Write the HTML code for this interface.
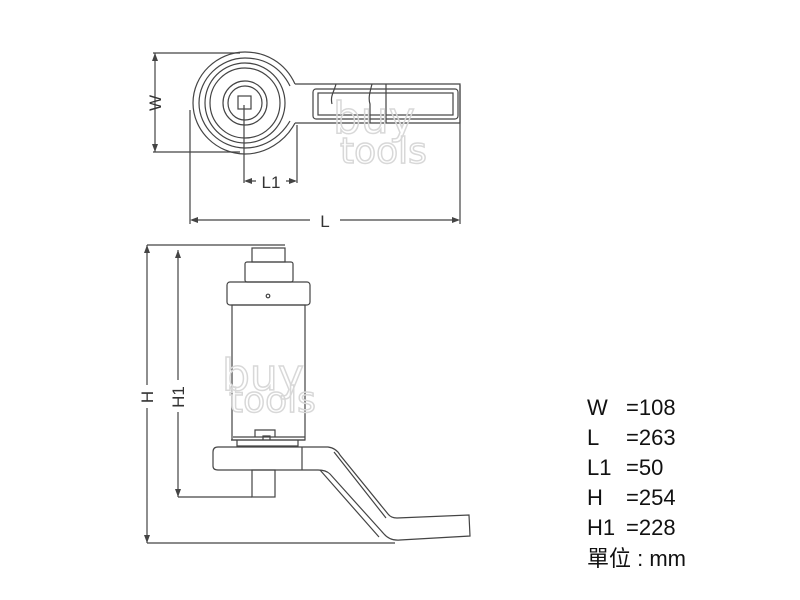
<!DOCTYPE html>
<html><head><meta charset="utf-8"><style>
html,body{margin:0;padding:0;background:#fff;}
svg{display:block}
</style></head><body>
<svg width="800" height="600" viewBox="0 0 800 600" xmlns="http://www.w3.org/2000/svg" font-family="Liberation Sans, sans-serif">
<g fill="none" stroke="#444" stroke-width="1.2">
<!-- top view head -->
<path d="M295,84 C285,62 265,52 245,52 C217,52 193,75 193,103 C193,131 217,154 245,154 C265,154 285,142 295,123" />
<path d="M290,86 C280,66 263,58 245,58 C220,58 199,79 199,103 C199,127 220,148 245,148 C263,148 280,138 290,121"/>
<circle cx="245" cy="103" r="40"/>
<circle cx="245" cy="103" r="35"/>
<circle cx="245" cy="103" r="22"/>
<circle cx="245" cy="103" r="17"/>
<rect x="238" y="96" width="13" height="13"/>
<!-- handle -->
<path d="M295,84 L460,84 L460,123 L295,123"/>
<rect x="313" y="89" width="145" height="30" rx="3"/>
<rect x="318" y="93" width="135" height="22"/>
<path d="M336,84 C334,92 330,96 332,104 M372,84 C370,92 368,98 370,104 L370,123 M386,84 L386,123"/>
<!-- W dim -->
<path d="M155,53 L155,152 M153,53 L240,53 M153,152 L240,152"/>
<!-- L1 dim -->
<path d="M244,105 L244,183 M297,125 L297,183 M246,181 L256,181 M286,181 L295,181"/>
<!-- L dim -->
<path d="M190,110 L190,224 M460,85 L460,224 M192,220 L310,220 M340,220 L458,220"/>
<!-- side view -->
<path d="M147,245 L147,385 M147,408 L147,543 M147,245 L285,245 M178,250 L178,380 M178,412 L178,497 M178,497 L252,497 M147,543 L395,543"/>
<rect x="252" y="248" width="33" height="14"/>
<rect x="245" y="262" width="48" height="20" rx="2"/>
<rect x="227" y="282" width="83" height="23" rx="3"/>
<circle cx="268" cy="296" r="1.8"/>
<rect x="232" y="305" width="73" height="135"/>
<path d="M231,440 L305,440 M233,437 L305,437 M255,437 L255,430 L275,430 L275,437 M263,440 L263,436 L270,436 L270,440 M237,440 L237,446 L298,446 L298,440"/>
<path d="M302,447 L218,447 Q213,447 213,452 L213,466 Q213,470 218,470 L302,470"/>
<path d="M302,447 L302,470 M302,447 L328,447 Q336,448 340,455 L388,514 Q391,518 397,518 L469,515 L470,536 L400,540 Q390,541 384,534 L330,474 Q326,470 318,470 L302,470"/>
<path d="M334,452 L386,518 M320,470 L379,537"/>
<rect x="252" y="470" width="23" height="27"/>
</g>
<g fill="#444" stroke="none">
<path d="M155,53 l-3,8 h6z M155,152 l-3,-8 h6z M244,181 l8,-3 v6z M297,181 l-8,-3 v6z M190,220 l8,-3 v6z M460,220 l-8,-3 v6z M147,245 l-3,8 h6z M147,543 l-3,-8 h6z M178,250 l-3,8 h6z M178,497 l-3,-8 h6z"/>
</g>
<g fill="#333" font-size="17">
<text x="0" y="0" transform="translate(161,103) rotate(-90)" text-anchor="middle">W</text>
<text x="271" y="188" text-anchor="middle">L1</text>
<text x="325" y="227" text-anchor="middle">L</text>
<text x="0" y="0" transform="translate(153,397) rotate(-90)" text-anchor="middle">H</text>
<text x="0" y="0" transform="translate(184,397) rotate(-90)" text-anchor="middle">H1</text>
</g>
<g fill="none" stroke="#d8d8d8" stroke-width="1.5" font-size="44" font-family="DejaVu Sans, sans-serif">
<text x="333" y="133">buy</text>
<text x="340" y="163" font-size="36">tools</text>
<text x="222" y="390">buy</text>
<text x="229" y="412" font-size="36">tools</text>
</g>
<g fill="#111" font-size="22" font-family="Liberation Sans, 'Noto Sans CJK TC', sans-serif">
<text x="587" y="415">W</text><text x="626" y="415">=108</text>
<text x="587" y="445">L</text><text x="626" y="445">=263</text>
<text x="587" y="475">L1</text><text x="626" y="475">=50</text>
<text x="587" y="505">H</text><text x="626" y="505">=254</text>
<text x="587" y="535">H1</text><text x="626" y="535">=228</text>
<text x="587" y="566">單位 : mm</text>
</g>
</svg>
</body></html>
